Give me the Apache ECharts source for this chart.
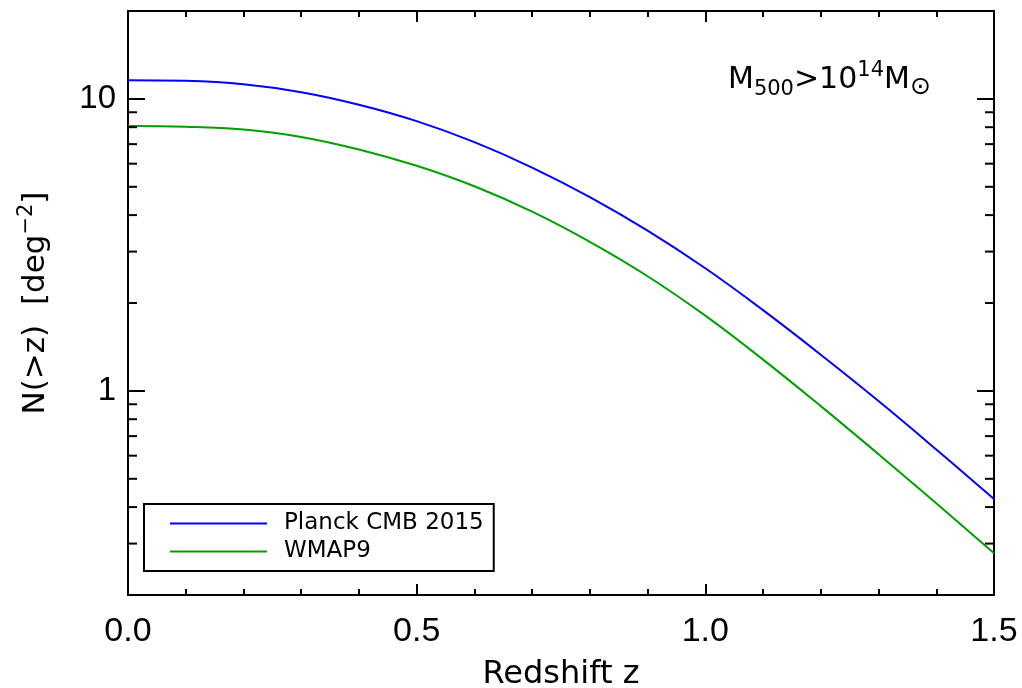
<!DOCTYPE html>
<html>
<head>
<meta charset="utf-8">
<script src="https://cdn.jsdelivr.net/npm/echarts@6/dist/echarts.min.js"></script>
<style>
  html, body { margin: 0; padding: 0; background: #fff; }
  #chart { width: 1022px; height: 688px; }
</style>
</head>
<body>
<div id="chart"></div>
<script>
// cumulative cluster counts N(>z) per deg^2, M500 > 1e14 Msun
const redshift = [0, 0.1, 0.2, 0.3, 0.4, 0.5, 0.6, 0.7, 0.8, 0.9, 1.0, 1.1, 1.2, 1.3, 1.4, 1.5];
const planck2015 = [11.59, 11.53, 11.22, 10.54, 9.55, 8.39, 7.11, 5.82, 4.61, 3.54, 2.63, 1.89, 1.33, 0.923, 0.630, 0.426];
const wmap9 = [8.08, 8.03, 7.85, 7.41, 6.71, 5.90, 5.02, 4.11, 3.24, 2.47, 1.81, 1.28, 0.887, 0.607, 0.412, 0.278];
const seriesNames = ['Planck CMB 2015', 'WMAP9'];
const yMinorTicks = [0.3, 0.4, 0.5, 0.6, 0.7, 0.8, 0.9, 2, 3, 4, 5, 6, 7, 8, 9];

const FONT = 'DejaVu Sans';
const TICK_FONT = 'Liberation Sans';
const chart = echarts.init(document.getElementById('chart'));

const toPairs = ys => redshift.map((z, i) => [z, ys[i]]);

// log axis minor ticks at 2..9 x 10^k, drawn on both frame sides
const renderMinorTick = (params, api) => {
  const y = api.coord([0, api.value(1)])[1];
  const cs = params.coordSys;
  const style = { stroke: '#000', lineWidth: 2 };
  return {
    type: 'group',
    children: [
      { type: 'line', shape: { x1: cs.x, y1: y, x2: cs.x + 9, y2: y }, style },
      { type: 'line', shape: { x1: cs.x + cs.width - 9, y1: y, x2: cs.x + cs.width, y2: y }, style }
    ]
  };
};

const xAxisBase = {
  type: 'value',
  min: 0,
  max: 1.5,
  interval: 0.5,
  axisLine: { show: true, onZero: false, lineStyle: { color: '#000', width: 2 } },
  axisTick: { show: true, inside: true, length: 11, lineStyle: { color: '#000', width: 2 } },
  minorTick: { show: true, splitNumber: 5, length: 6, lineStyle: { color: '#000', width: 2 } },
  splitLine: { show: false }
};

const yAxisBase = {
  type: 'log',
  logBase: 10,
  min: 0.2,
  max: 20,
  axisLine: { show: true, onZero: false, lineStyle: { color: '#000', width: 2 } },
  axisTick: { show: true, inside: true, length: 17, lineStyle: { color: '#000', width: 2 } },
  splitLine: { show: false }
};

const lineSeries = (name, ys, color) => ({
  name,
  type: 'line',
  data: toPairs(ys),
  smooth: 0.4,
  showSymbol: false,
  lineStyle: { color, width: 2 },
  itemStyle: { color }
});

chart.setOption({
  animation: false,
  textStyle: { fontFamily: FONT },
  grid: { left: 128, right: 28, top: 11, bottom: 93, containLabel: false, outerBoundsMode: 'none' },
  legend: {
    data: seriesNames,
    orient: 'vertical',
    left: 144,
    top: 504,
    padding: [8, 10, 8, 26],
    itemGap: 5,
    itemWidth: 97,
    itemHeight: 2,
    icon: 'rect',
    borderColor: '#000',
    borderWidth: 2,
    backgroundColor: '#fff',
    textStyle: { fontFamily: FONT, fontSize: 23, color: '#000', padding: [0, 0, 0, 12], lineHeight: 22 }
  },
  graphic: [{
    type: 'text',
    left: 728,
    top: 60,
    style: {
      text: '{m|M}{sub|500}{m|>10}{sup|14}{m|M}{sun|\u2299}',
      rich: {
        m: { fontFamily: FONT, fontSize: 30, lineHeight: 40, fill: '#000' },
        sub: { fontFamily: FONT, fontSize: 21, lineHeight: 20, verticalAlign: 'bottom', fill: '#000' },
        sup: { fontFamily: FONT, fontSize: 21, lineHeight: 20, verticalAlign: 'top', fill: '#000' },
        sun: { fontFamily: FONT, fontSize: 25, lineHeight: 26, verticalAlign: 'bottom', fill: '#000' }
      }
    }
  }],
  xAxis: [
    Object.assign({}, xAxisBase, {
      position: 'bottom',
      name: 'Redshift z',
      nameLocation: 'middle',
      nameGap: 64,
      nameTextStyle: { fontFamily: FONT, fontSize: 32, color: '#000' },
      axisLabel: { show: true, margin: 20, fontFamily: TICK_FONT, fontSize: 34, color: '#000',
        formatter: v => v.toFixed(1) }
    }),
    Object.assign({}, xAxisBase, { position: 'top', axisLabel: { show: false } })
  ],
  yAxis: [
    Object.assign({}, yAxisBase, {
      position: 'left',
      name: '{t|N(>z)  [deg}{sup|\u22122}{t|]}',
      nameLocation: 'middle',
      nameGap: 72,
      nameTextStyle: {
        rich: {
          t: { fontFamily: FONT, fontSize: 31, lineHeight: 40, color: '#000' },
          sup: { fontFamily: FONT, fontSize: 21, lineHeight: 20, verticalAlign: 'top', color: '#000' }
        }
      },
      axisLabel: { show: true, margin: 12, fontFamily: TICK_FONT, fontSize: 33, color: '#000',
        showMinLabel: false, showMaxLabel: false,
        formatter: v => (v >= 1 ? String(Math.round(v)) : String(v)) }
    }),
    Object.assign({}, yAxisBase, { position: 'right', axisLabel: { show: false } })
  ],
  series: [
    lineSeries(seriesNames[0], planck2015, '#0000ff'),
    lineSeries(seriesNames[1], wmap9, '#00a000'),
    {
      name: 'minor ticks',
      type: 'custom',
      renderItem: renderMinorTick,
      data: yMinorTicks.map(v => [0, v]),
      silent: true,
      z: 5
    }
  ]
});
</script>
</body>
</html>
